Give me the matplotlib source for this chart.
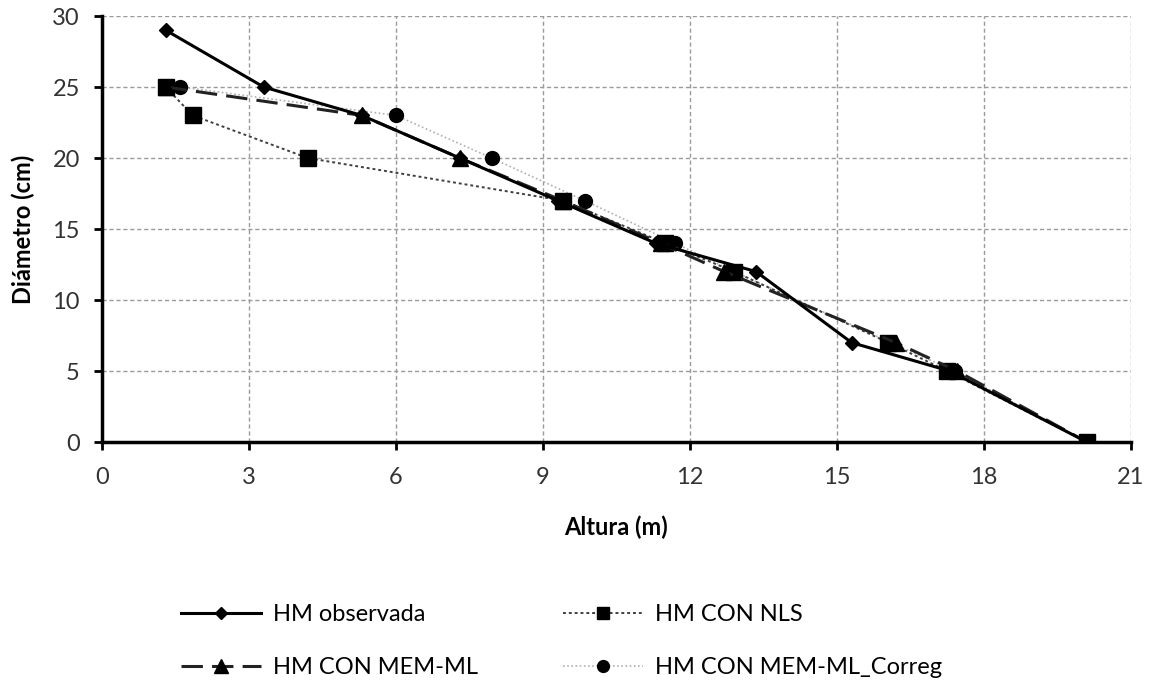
import matplotlib
matplotlib.use("Agg")
import matplotlib.pyplot as plt

plt.rcParams['font.family'] = ['Lato', 'DejaVu Sans']

# Altura (m) vs Diámetro (cm)
obs_h = [1.3, 3.3, 5.3, 7.3, 9.3, 11.3, 13.35, 15.3, 17.3, 20.1]
obs_d = [29, 25, 23, 20, 17, 14, 12, 7, 5, 0]

nls_h = [1.3, 1.85, 4.2, 9.4, 11.5, 12.9, 16.05, 17.25, 20.1]
nls_d = [25, 23, 20, 17, 14, 12, 7, 5, 0]

mem_h = [1.3, 5.3, 7.3, 9.4, 11.4, 12.7, 16.2, 17.45, 20.1]
mem_d = [25, 23, 20, 17, 14, 12, 7, 5, 0]

corr_h = [1.6, 6.0, 7.95, 9.85, 11.7, 12.9, 16.1, 17.4, 20.1]
corr_d = [25, 23, 20, 17, 14, 12, 7, 5, 0]

x_ticks = [0, 3, 6, 9, 12, 15, 18, 21]
y_ticks = [0, 5, 10, 15, 20, 25, 30]

fig = plt.figure(figsize=(11.54, 6.87), dpi=100)
ax = fig.add_axes([0.0884, 0.3566, 0.8916, 0.6201])

# draw order: light ones first, observed on top
l_corr, = ax.plot(corr_h, corr_d, linestyle=(0, (1, 1.5)), color='#b0b0b0', linewidth=1.2,
                  marker='o', markersize=10, markerfacecolor='black', markeredgecolor='black',
                  label='HM CON MEM-ML_Correg')
l_nls, = ax.plot(nls_h, nls_d, linestyle=(0, (1.5, 1.5)), color='#404040', linewidth=1.4,
                 marker='s', markersize=11, markerfacecolor='black', markeredgecolor='black',
                 label='HM CON NLS')
l_mem, = ax.plot(mem_h, mem_d, linestyle=(0, (7, 3)), color='#222222', linewidth=2.2,
                 marker='^', markersize=12, markerfacecolor='black', markeredgecolor='black',
                 label='HM CON MEM-ML')
l_obs, = ax.plot(obs_h, obs_d, linestyle='-', color='black', linewidth=2.2,
                 marker='D', markersize=7.5, markerfacecolor='black', markeredgecolor='black',
                 label='HM observada')

ax.set_xlim(0, 21)
ax.set_ylim(0, 30)
ax.set_xticks(x_ticks)
ax.set_yticks(y_ticks)
ax.tick_params(axis='both', labelsize=17, length=6, width=2, direction='out', colors='black')
ax.tick_params(axis='x', pad=12)
ax.tick_params(axis='y', pad=10)
for lab in ax.get_xticklabels() + ax.get_yticklabels():
    lab.set_color('#333333')

ax.grid(True, linestyle=(0, (3, 2)), color='#9a9a9a', linewidth=1)
ax.set_axisbelow(True)
for side in ['top', 'right']:
    ax.spines[side].set_visible(False)
for side in ['left', 'bottom']:
    ax.spines[side].set_linewidth(2.5)
    ax.spines[side].set_color('black')
    ax.spines[side].set_zorder(5)

ax.set_xlabel('Altura (m)', fontsize=17, fontweight='bold', labelpad=20)
ax.set_ylabel('Diámetro (cm)', fontsize=17, fontweight='bold', labelpad=12)

fig.legend(handles=[l_obs, l_mem, l_nls, l_corr], loc='center left',
           bbox_to_anchor=(0.138, 0.067), ncol=2, frameon=False, fontsize=17,
           handlelength=3.4, handletextpad=0.5, columnspacing=3.6, labelspacing=1.35,
           markerscale=0.85)

fig.savefig('out.png', dpi=100)
